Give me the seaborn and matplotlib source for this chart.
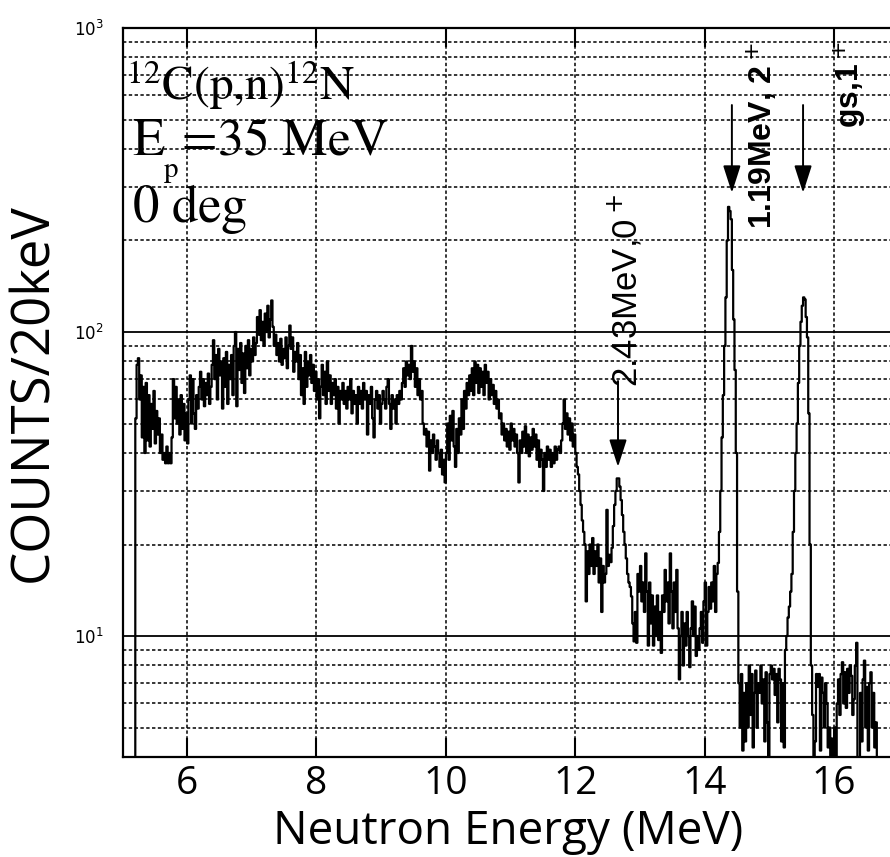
import numpy as np
import pandas as pd
import matplotlib
matplotlib.use("Agg")
import matplotlib.pyplot as plt
import seaborn as sns

# ---------------- data (counts per 20 keV bin) ----------------
energy_start = 5.20     # MeV, first bin
bin_width = 0.02        # MeV (20 keV)

seg_520 = [52, 78, 82, 60, 72, 45, 66, 40, 68, 44, 62, 42, 58, 48, 64, 43, 55, 46, 52, 40, 46, 38, 40, 37, 42]
seg_570 = [37, 40, 37, 45, 70, 52, 66, 50, 60, 46, 62, 48, 58, 44, 54, 43, 60, 72, 50, 70, 54, 48, 62, 56, 66]
seg_620 = [74, 60, 70, 57, 68, 62, 73, 58, 66, 78, 94, 70, 84, 60, 88, 72, 80, 56, 82, 66, 86, 58, 78, 70, 84]
seg_670 = [62, 90, 100, 57, 88, 75, 92, 68, 85, 63, 90, 76, 94, 72, 88, 80, 96, 84, 92, 112, 98, 118, 94, 108, 90]
seg_720 = [115, 100, 122, 96, 110, 127, 104, 90, 98, 84, 92, 80, 95, 78, 88, 82, 96, 76, 90, 105, 88, 96, 74, 86, 80]
seg_770 = [92, 70, 84, 62, 76, 58, 86, 66, 80, 72, 84, 68, 78, 64, 74, 60, 70, 52, 66, 78, 62, 74, 58, 80, 64]
seg_820 = [72, 58, 68, 62, 70, 56, 66, 50, 64, 60, 68, 58, 64, 56, 66, 60, 70, 54, 64, 58, 62, 50, 66, 58, 64]
seg_870 = [56, 68, 60, 64, 46, 62, 58, 66, 52, 45, 60, 64, 56, 62, 50, 58, 64, 60, 56, 66, 70, 58, 48, 62, 56]
seg_920 = [60, 50, 62, 58, 64, 60, 68, 76, 66, 80, 72, 78, 70, 90, 74, 80, 66, 76, 62, 70, 60, 64, 50, 46, 48]
seg_970 = [42, 47, 35, 44, 40, 46, 42, 38, 44, 40, 36, 41, 34, 38, 32, 40, 50, 38, 53, 44, 55, 42, 36, 48, 40]
seg_1020 = [52, 46, 60, 48, 64, 56, 68, 62, 72, 64, 76, 62, 80, 68, 78, 63, 76, 66, 74, 62, 78, 68, 74, 60, 70]
seg_1070 = [62, 67, 58, 64, 56, 60, 52, 54, 46, 50, 44, 48, 42, 47, 41, 50, 44, 48, 42, 46, 40, 32, 44, 40, 47]
seg_1120 = [42, 49, 40, 46, 39, 45, 41, 48, 42, 46, 38, 44, 36, 41, 38, 30, 40, 36, 42, 38, 41, 36, 40, 37, 42]
seg_1170 = [38, 41, 42, 40, 44, 50, 60, 48, 54, 46, 52, 44, 50, 42, 46, 40, 36, 34, 30, 27, 24, 22, 20, 13, 19]
seg_1220 = [16, 20, 17, 21, 16, 19, 17, 20, 15, 18, 12, 17, 15, 16, 26, 17, 18.5, 17.5, 19.5, 23, 27, 30, 33, 33, 31]
seg_1270 = [28, 25, 22, 20, 18, 16, 15, 14.5, 13.5, 11, 9.6, 12, 9.5, 16, 14, 17, 13, 15, 12, 18.7, 14, 9.3, 15, 11, 13.6]
seg_1320 = [9.3, 12.5, 10, 13.6, 9.7, 12, 8.8, 13.6, 12, 16.5, 13, 15, 11, 18.7, 14, 10.6, 15, 12, 16.5, 10.6, 7.2, 10, 12, 8, 11]
seg_1370 = [9.3, 12, 10, 7.9, 10.6, 13, 10, 12.5, 8.6, 10, 9, 10.6, 12, 9.5, 13, 15, 9.3, 12, 14.5, 12.3, 15, 13, 17, 12, 16]
seg_1420 = [17.4, 22, 30, 45, 62, 90, 130, 200, 258, 250, 235, 160, 110, 75, 40, 14, 7, 5, 7.5, 4.2, 6.5, 4.5, 7, 5, 8]
seg_1470 = [5.5, 7.5, 4.3, 6.5, 7.7, 5, 7, 6.5, 8, 6, 7.2, 4.5, 7.6, 5.2, 4.0, 7.5, 8, 7.2, 7.8, 6.4, 7.5, 5.2, 7.8, 7.2, 4.5]
seg_1520 = [7, 4.3, 9, 10, 11.5, 12.5, 14, 16, 22, 30, 40, 50, 68, 90, 108, 122, 130, 128, 112, 96, 54, 20, 8, 5.5, 3]
seg_1570 = [4.5, 7.5, 6.8, 7.5, 4.2, 7.3, 6.5, 5, 7, 6, 4.3, 5, 3.5, 4.6, 3.8, 5, 4, 6, 7.2, 5.5, 7.5, 8.2, 6, 7.6, 5.8]
seg_1620 = [7.8, 6.5, 8.0, 7.4, 5.5, 6.2, 8.0, 9.5, 3.2, 3.0, 6.5, 4.5, 7.2, 8.3, 5.0, 6.8, 4.2, 7.0, 7.6, 5.0, 6.5, 4.3, 5.2, 3.5, 3.0]

segments = [seg_520, seg_570, seg_620, seg_670, seg_720, seg_770, seg_820, seg_870,
            seg_920, seg_970, seg_1020, seg_1070, seg_1120, seg_1170, seg_1220, seg_1270,
            seg_1320, seg_1370, seg_1420, seg_1470, seg_1520, seg_1570, seg_1620]

x_ticks = [6, 8, 10, 12, 14, 16]
x_limits = (5.01, 16.91)
y_limits = (4, 1000)

# level annotations: label, arrow energy, arrow start/end counts, label anchor
level_labels = [r"2.43MeV,0$^+$", r"1.19MeV, 2$^+$", r"gs,1$^+$"]
level_bold = [False, True, True]
level_size = [25, 23, 23]
arrow_energy = [12.66, 14.42, 15.52]
arrow_from = [69, 558, 558]
arrow_to = [36, 287, 287]
label_energy = [12.77, 14.87, 16.24]
label_count = [66, 218, 470]

# ---------------- figure ----------------
counts = np.concatenate([np.asarray(s, dtype=float) for s in segments])
energy = energy_start + bin_width * np.arange(len(counts))
floor_val = 1.0
df = pd.DataFrame({
    "energy": np.r_[energy[0], energy, energy[-1] + bin_width],
    "counts": np.r_[floor_val, counts, floor_val],
})

sns.set_theme(style="white")
plt.rcParams["font.family"] = ["Open Sans", "DejaVu Sans"]
plt.rcParams["mathtext.fontset"] = "dejavusans"

W, H = 890, 857
fig = plt.figure(figsize=(W / 100, H / 100), dpi=100)
ax = fig.add_axes([123 / W, 1 - 757 / H, 770 / W, 729 / H])

sns.lineplot(data=df, x="energy", y="counts", drawstyle="steps-post",
             estimator=None, sort=False, color="black", lw=1.6, ax=ax)

ax.set_yscale("log")
ax.set_xlim(*x_limits)
ax.set_ylim(*y_limits)
ax.set_xticks(x_ticks)
ax.set_xticklabels([str(t) for t in x_ticks])

# grid: solid decades, dotted minor, dotted verticals
ax.grid(False)
for d in [10, 100]:
    ax.axhline(d, color="black", lw=1.3, zorder=1)
minor_levels = [m * 10 ** k for k in range(0, 3) for m in range(2, 10)]
for m in minor_levels:
    if y_limits[0] < m < y_limits[1]:
        ax.axhline(m, color="black", lw=1.1, ls=(0, (2.2, 1.6)), zorder=1)
for t in x_ticks:
    ax.axvline(t, color="black", lw=1.1, ls=(0, (2.2, 1.6)), zorder=1)

for sp in ["left", "bottom", "top"]:
    ax.spines[sp].set_visible(True)
    ax.spines[sp].set_color("black")
    ax.spines[sp].set_linewidth(1.6)
ax.spines["right"].set_visible(False)

ax.tick_params(axis="x", which="major", direction="in", length=14, width=1.5,
               top=True, bottom=True, labelsize=28, pad=6, colors="black")
ax.tick_params(axis="y", which="major", direction="in", length=0, labelsize=12,
               pad=14, colors="black")
ax.tick_params(axis="y", which="minor", length=0)
ax.set_yticks([10, 100, 1000])
ax.set_yticklabels([r"$10^{1}$", r"$10^{2}$", r"$10^{3}$"])

ax.set_xlabel("Neutron Energy (MeV)", fontsize=33, color="black", labelpad=4)
ax.set_ylabel("COUNTS/20keV", fontsize=38, color="black", labelpad=10)

# reaction text (Times-like serif, set as math text so boxes are glyph-tight)
ax.text(0.004, 0.901, r"$^{12}\mathrm{C(p{,}n)}^{12}\mathrm{N}$", transform=ax.transAxes,
        fontsize=34, math_fontfamily="stix", color="black", va="baseline")
ax.text(0.012, 0.826, r"$\mathrm{E}$", transform=ax.transAxes, fontsize=38,
        math_fontfamily="stix", color="black", va="baseline")
ax.text(0.066, 0.826, r"$\mathrm{=}\!\mathrm{35\ MeV}$", transform=ax.transAxes, fontsize=37,
        math_fontfamily="stix", color="black", va="baseline")
ax.text(0.052, 0.795, r"$\mathrm{p}$", transform=ax.transAxes, fontsize=21,
        math_fontfamily="stix", color="black", va="baseline")
ax.text(0.012, 0.734, r"$\mathrm{0\ deg}$", transform=ax.transAxes, fontsize=38,
        math_fontfamily="stix", color="black", va="baseline")

for lab, bold, fs, ea, ya, yb, el, yl in zip(level_labels, level_bold, level_size, arrow_energy,
                                             arrow_from, arrow_to, label_energy, label_count):
    ax.annotate("", xy=(ea, yb), xytext=(ea, ya),
                arrowprops=dict(arrowstyle="-|>,head_length=1.4,head_width=0.45",
                                color="black", lw=1.4, shrinkA=0, shrinkB=0))
    ax.text(el, yl, lab, rotation=90, ha="center", va="bottom", fontsize=fs,
            fontweight="bold" if bold else "normal",
            family=["Liberation Sans", "DejaVu Sans"], color="black")

fig.savefig("out.png", dpi=100, facecolor="white")
